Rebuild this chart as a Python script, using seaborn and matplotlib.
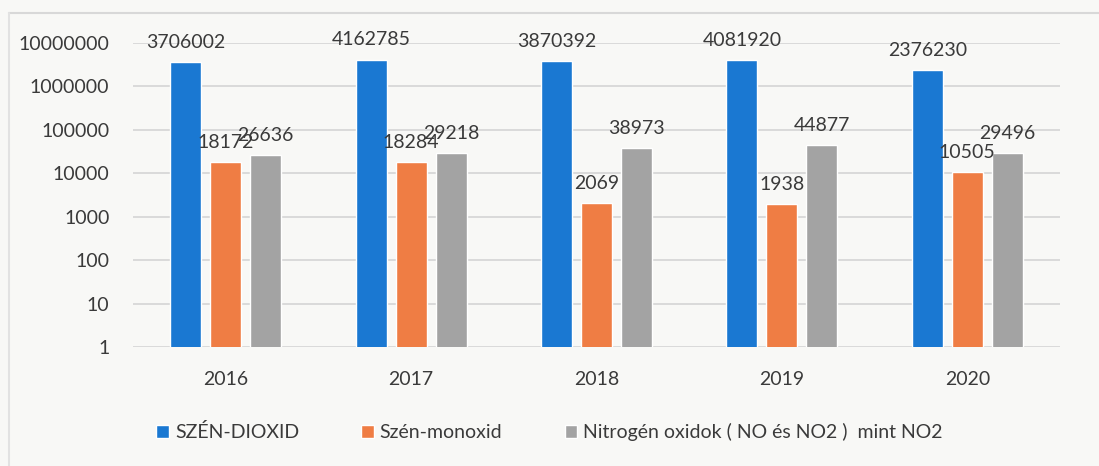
import matplotlib
matplotlib.use("Agg")
import matplotlib.pyplot as plt
from matplotlib.lines import Line2D
import seaborn as sns
import pandas as pd

years = ["2016", "2017", "2018", "2019", "2020"]
series_names = ["SZÉN-DIOXID", "Szén-monoxid", "Nitrogén oxidok ( NO és NO2 )  mint NO2"]
co2 = [3706002, 4162785, 3870392, 4081920, 2376230]
co = [18172, 18284, 2069, 1938, 10505]
nox = [26636, 29218, 38973, 44877, 29496]
ytick_values = [1, 10, 100, 1000, 10000, 100000, 1000000, 10000000]

colors = ["#1a78d2", "#ef7d44", "#a3a3a3"]
text_color = "#3a3a3a"
bg = "#f8f8f6"

df = pd.DataFrame({
    "year": years * 3,
    "series": [series_names[0]] * 5 + [series_names[1]] * 5 + [series_names[2]] * 5,
    "value": co2 + co + nox,
})

sns.set_theme(style="white")
plt.rcParams["font.family"] = ["Lato", "DejaVu Sans"]
plt.rcParams["text.color"] = text_color

fig = plt.figure(figsize=(10.99, 4.66), dpi=100, facecolor=bg)
ax = fig.add_axes([133 / 1099, 1 - 347 / 466, (1060 - 133) / 1099, (347 - 43) / 466])
ax.set_facecolor(bg)
ax.set_yscale("log")

sns.barplot(data=df, x="year", y="value", hue="series", order=years,
            hue_order=series_names, palette=colors, width=0.647, gap=0.225,
            saturation=1, ax=ax, errorbar=None, zorder=3)

ax.set_ylim(1, 1e7)
ax.set_yticks(ytick_values)
ax.set_yticklabels([str(v) for v in ytick_values])
ax.minorticks_off()
ax.yaxis.grid(True, color="#dadada", linewidth=1.4, zorder=0)
ax.set_axisbelow(True)
for s in ax.spines.values():
    s.set_visible(False)
ax.tick_params(axis="y", length=0, pad=17, labelsize=14, labelcolor=text_color)
ax.tick_params(axis="x", length=0, pad=17, labelsize=14, labelcolor=text_color)
ax.set_xlabel("")
ax.set_ylabel("")

for cont in ax.containers:
    ax.bar_label(cont, labels=[str(int(round(v))) for v in cont.datavalues], padding=8,
                 fontsize=14, color=text_color, clip_on=False)

handles, labels = ax.get_legend_handles_labels()
ax.legend_.remove()
fig.legend(handles, labels, loc="center", bbox_to_anchor=(0.5, 1 - 432 / 466),
           ncol=3, frameon=False, fontsize=14, handlelength=0.65, handleheight=0.65,
           handletextpad=0.3, columnspacing=3.2, labelcolor=text_color)

fig.add_artist(Line2D([9 / 1099, 1.0], [1 - 13 / 466, 1 - 13 / 466], transform=fig.transFigure,
                      color="#d8d8d8", linewidth=1.5))
fig.add_artist(Line2D([9 / 1099, 9 / 1099], [0.0, 1 - 13 / 466], transform=fig.transFigure,
                      color="#e2e2e2", linewidth=1.5))

fig.savefig("out.png", dpi=100, facecolor=bg)
